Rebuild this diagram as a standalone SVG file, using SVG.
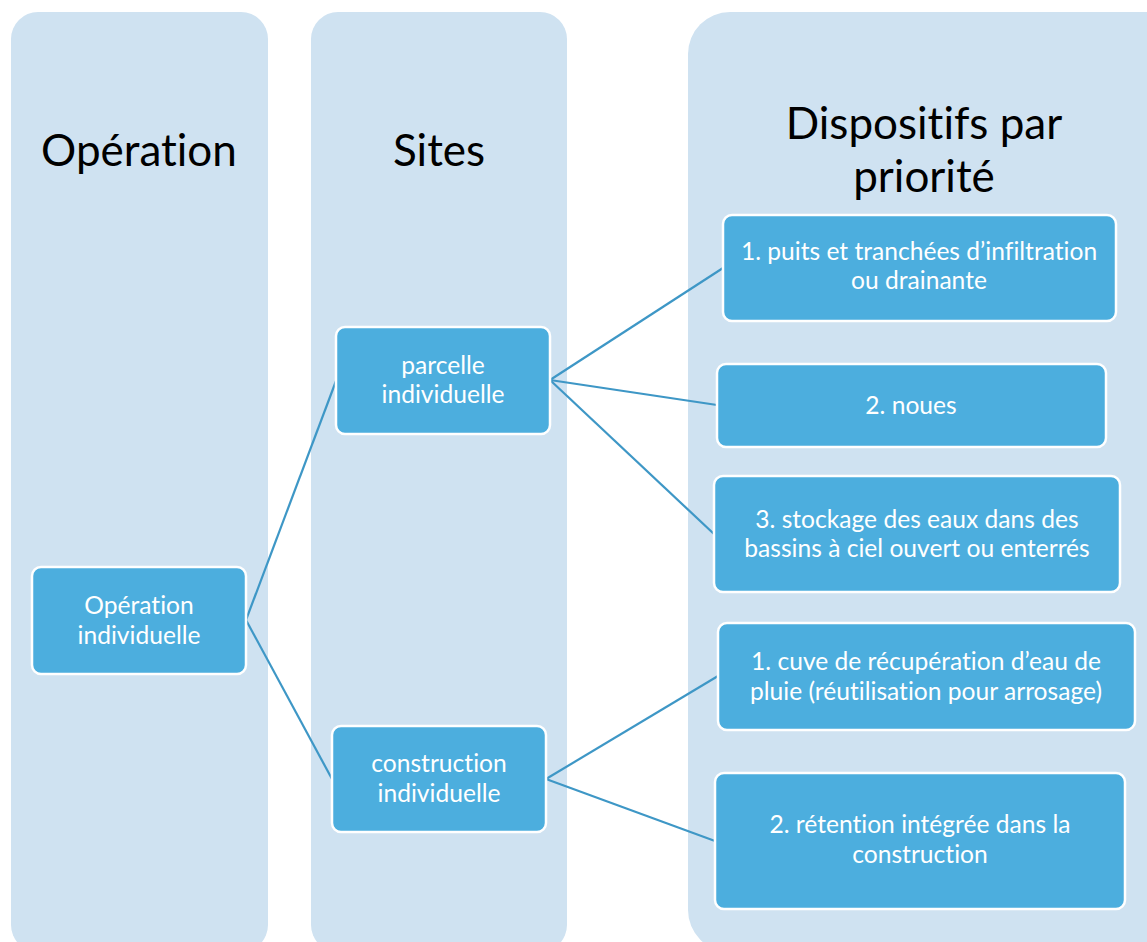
<svg xmlns="http://www.w3.org/2000/svg" width="1147" height="942" viewBox="0 0 1147 942">
<style>
.col{fill:#CFE2F1;}
text{font-variant-ligatures:none;font-feature-settings:"liga" 0;}
.title{font-family:Lato,"Liberation Sans",sans-serif;font-size:44px;fill:#000;text-anchor:middle;}
.node rect{fill:#4CAEDE;stroke:#FFFFFF;stroke-width:2.5;}
.node text{font-family:Lato,"Liberation Sans",sans-serif;font-size:24.6px;fill:#FFFFFF;text-anchor:middle;}
.conn line{stroke:#3E97C6;stroke-width:2.2;}
</style>
<rect width="1147" height="942" fill="#FFFFFF"/>
<g id="col-operation">
<rect class="col" x="11" y="12" width="257" height="940" rx="27"/>
<text class="title" x="139" y="166">Opération</text>
</g>
<g id="col-sites">
<rect class="col" x="311" y="12" width="256" height="940" rx="27"/>
<text class="title" x="439" y="166">Sites</text>
</g>
<g id="col-dispositifs">
<rect class="col" x="688" y="12" width="500" height="940" rx="42"/>
<text class="title" x="924" y="139">Dispositifs par</text>
<text class="title" x="924" y="192">priorité</text>
</g>
<g id="connectors" class="conn">
<line x1="246" y1="620" x2="336" y2="381"/>
<line x1="246" y1="620" x2="332" y2="779"/>
<line x1="550" y1="380" x2="723" y2="268"/>
<line x1="550" y1="380" x2="717" y2="405"/>
<line x1="550" y1="380" x2="714" y2="534"/>
<line x1="546" y1="779" x2="718" y2="676"/>
<line x1="546" y1="779" x2="715" y2="841"/>
</g>
<g id="n-operation-individuelle" class="node">
<rect x="32" y="567" width="214" height="107" rx="9"/>
<text x="139" y="614">Opération</text>
<text x="139" y="644">individuelle</text>
</g>
<g id="n-parcelle" class="node">
<rect x="336" y="327" width="214" height="107" rx="9"/>
<text x="443" y="374">parcelle</text>
<text x="443" y="403">individuelle</text>
</g>
<g id="n-construction" class="node">
<rect x="332" y="726" width="214" height="106" rx="9"/>
<text x="439" y="772">construction</text>
<text x="439" y="802">individuelle</text>
</g>
<g id="n-puits" class="node">
<rect x="723" y="215" width="393" height="106" rx="9"/>
<text x="919" y="260">1. puits et tranchées d’infiltration</text>
<text x="919" y="289">ou drainante</text>
</g>
<g id="n-noues" class="node">
<rect x="717" y="364" width="389" height="83" rx="9"/>
<text x="911" y="414">2. noues</text>
</g>
<g id="n-stockage" class="node">
<rect x="714" y="476" width="406" height="116" rx="9"/>
<text x="917" y="528">3. stockage des eaux dans des</text>
<text x="917" y="557">bassins à ciel ouvert ou enterrés</text>
</g>
<g id="n-cuve" class="node">
<rect x="718" y="623" width="417" height="107" rx="9"/>
<text x="926" y="670">1. cuve de récupération d’eau de</text>
<text x="926" y="700">pluie (réutilisation pour arrosage)</text>
</g>
<g id="n-retention" class="node">
<rect x="715" y="773" width="410" height="136" rx="9"/>
<text x="920" y="833">2. rétention intégrée dans la</text>
<text x="920" y="863">construction</text>
</g>
</svg>
